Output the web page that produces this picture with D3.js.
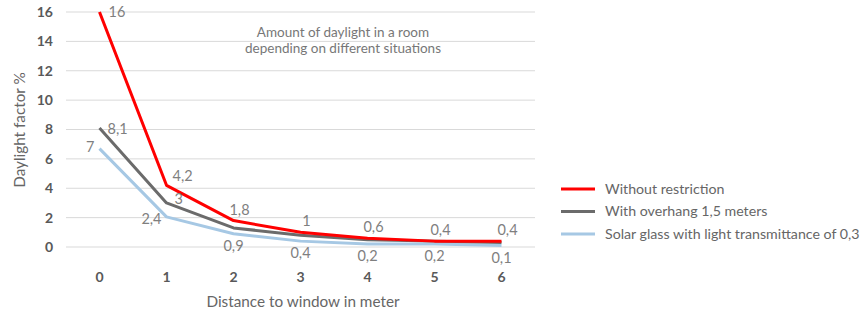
<!DOCTYPE html>
<html>
<head>
<meta charset="utf-8">
<script src="https://cdn.jsdelivr.net/npm/d3@7/dist/d3.min.js"></script>
<style>
  body { margin: 0; background: #fff; }
  text { font-family: Lato, "Liberation Sans", sans-serif; }
</style>
</head>
<body>
<svg id="chart"></svg>
<script>
// Distances (categories) and series
var distances = [0, 1, 2, 3, 4, 5, 6];
var yTicks = [0, 2, 4, 6, 8, 10, 12, 14, 16];

var noRestriction = [16, 4.2, 1.8, 1.0, 0.6, 0.4, 0.4];
var noRestrictionLabels = ["16", "4,2", "1,8", "1", "0,6", "0,4", "0,4"];

var overhang = [8.1, 3.0, 1.3, 0.8, 0.5, 0.4, 0.3];
var overhangLabels = ["8,1", "3", "", "", "", "", ""];

var solarGlass = [6.7, 2.05, 0.9, 0.4, 0.2, 0.2, 0.1];
var solarGlassLabels = ["7", "2,4", "0,9", "0,4", "0,2", "0,2", "0,1"];

var seriesNames = [
  "Without restriction",
  "With overhang 1,5 meters",
  "Solar glass with light transmittance of 0,3"
];

var width = 864, height = 314;
var svg = d3.select("#chart").attr("width", width).attr("height", height);

var x = d3.scaleBand().domain(distances).range([66, 535]);
var y = d3.scaleLinear().domain([0, 16]).range([247, 12]);

// Gridlines + y ticks
svg.append("g")
  .selectAll("line")
  .data(yTicks)
  .enter().append("line")
    .attr("x1", 66).attr("x2", 535)
    .attr("y1", d => y(d)).attr("y2", d => y(d))
    .attr("stroke", "#d9d9d9").attr("stroke-width", 1);

svg.append("g")
  .selectAll("text")
  .data(yTicks)
  .enter().append("text")
    .attr("x", 53)
    .attr("y", d => y(d))
    .attr("dy", "0.35em")
    .attr("text-anchor", "end")
    .attr("font-size", 14)
    .attr("font-weight", "bold")
    .attr("fill", "#595959")
    .text(d => d);

// x tick labels
svg.append("g")
  .selectAll("text")
  .data(distances)
  .enter().append("text")
    .attr("x", d => x(d) + x.bandwidth() / 2)
    .attr("y", 277)
    .attr("dy", "0.35em")
    .attr("text-anchor", "middle")
    .attr("font-size", 14)
    .attr("font-weight", "bold")
    .attr("fill", "#595959")
    .text(d => d);

// Axis titles
svg.append("text")
  .attr("x", 303).attr("y", 302)
  .attr("dy", "0.35em")
  .attr("text-anchor", "middle")
  .attr("font-size", 15.3)
  .attr("fill", "#666")
  .text("Distance to window in meter");

svg.append("text")
  .attr("transform", "translate(20," + 130 + ") rotate(-90)")
  .attr("dy", "0.35em")
  .attr("text-anchor", "middle")
  .attr("font-size", 15.3)
  .attr("fill", "#666")
  .text("Daylight factor %");

// Chart title
svg.append("text")
  .attr("x", 343).attr("y", 32)
  .attr("dy", "0.35em")
  .attr("text-anchor", "middle")
  .attr("font-size", 13.5)
  .attr("fill", "#777")
  .text("Amount of daylight in a room");
svg.append("text")
  .attr("x", 343).attr("y", 48)
  .attr("dy", "0.35em")
  .attr("text-anchor", "middle")
  .attr("font-size", 13.5)
  .attr("fill", "#777")
  .text("depending on different situations");

var series = [
  { values: solarGlass, labels: solarGlassLabels, color: "#a6c8e4", pos: "solar" },
  { values: overhang, labels: overhangLabels, color: "#6b6b6b", pos: "overhang" },
  { values: noRestriction, labels: noRestrictionLabels, color: "#ff0000", pos: "none" }
];

var line = d3.line()
  .x((d, i) => x(distances[i]) + x.bandwidth() / 2)
  .y(d => y(d));

series.forEach(function(s) {
  svg.append("path")
    .datum(s.values)
    .attr("d", line)
    .attr("fill", "none")
    .attr("stroke", s.color)
    .attr("stroke-width", 3)
    .attr("stroke-linejoin", "round");
});

// Data labels, placed like the original (right / above / left / below)
series.forEach(function(s) {
  svg.append("g")
    .selectAll("text")
    .data(s.values)
    .enter().append("text")
      .each(function(d, i) {
        var px = x(distances[i]) + x.bandwidth() / 2, py = y(d);
        var t = d3.select(this), anchor = "middle", tx = px, ty = py;
        if (s.pos === "none") {
          if (i === 0) { anchor = "start"; tx = px + 9; ty = py; }
          else if (i === 1) { anchor = "start"; tx = px + 6; ty = py - 9; }
          else { tx = px + 6; ty = py - 11; }
        } else if (s.pos === "overhang") {
          anchor = "start"; tx = px + 8; ty = i === 0 ? py + 1 : py - 4;
        } else {
          if (i < 2) { anchor = "end"; tx = px - 5; ty = i === 0 ? py - 2 : py + 2; }
          else { tx = px; ty = py + 12; }
        }
        t.attr("x", tx).attr("y", ty)
          .attr("dy", "0.35em")
          .attr("text-anchor", anchor);
      })
      .attr("font-size", 14.5)
      .attr("fill", "#7f7f7f")
      .text((d, i) => s.labels[i]);
});

// Legend
var legendColors = ["#ff0000", "#6b6b6b", "#a6c8e4"];
var legend = svg.append("g")
  .selectAll("g")
  .data(seriesNames)
  .enter().append("g")
    .attr("transform", (d, i) => "translate(561," + (189 + i * 22.5) + ")");

legend.append("line")
  .attr("x1", 0).attr("x2", 34)
  .attr("stroke", (d, i) => legendColors[i])
  .attr("stroke-width", 3);

legend.append("text")
  .attr("x", 44)
  .attr("dy", "0.35em")
  .attr("font-size", 14.2)
  .attr("fill", "#666")
  .text(d => d);
</script>
</body>
</html>
